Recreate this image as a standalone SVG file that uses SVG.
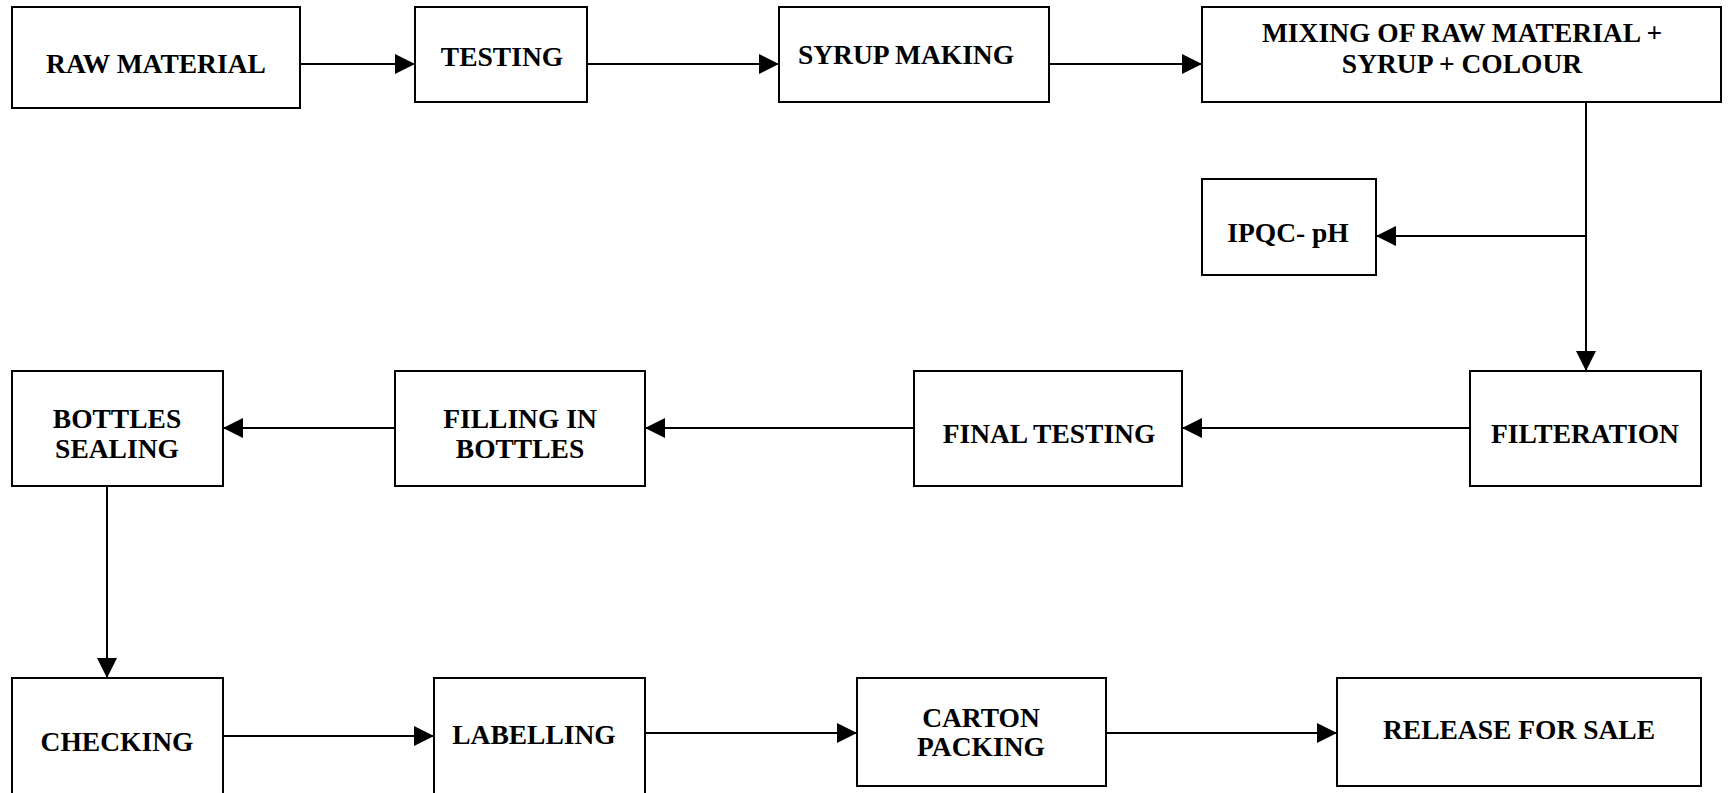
<svg xmlns="http://www.w3.org/2000/svg" width="1731" height="793" viewBox="0 0 1731 793">
<style>
.box{fill:#fff;stroke:#000;stroke-width:2}
.t{font-family:"Liberation Serif","Times New Roman",serif;font-weight:bold;font-size:27.5px;fill:#000;text-anchor:middle}
.c{fill:none;stroke:#000;stroke-width:2}
</style>
<defs>
<marker id="ah" markerUnits="userSpaceOnUse" markerWidth="20" markerHeight="20" refX="20" refY="10" orient="auto" viewBox="0 0 20 20">
<path d="M0,0 L20,10 L0,20 z" fill="#000"/>
</marker>
</defs>
<rect width="1731" height="793" fill="#fff"/>
<g id="connectors">
<line class="c" x1="300" y1="64" x2="415" y2="64" marker-end="url(#ah)"/>
<line class="c" x1="587" y1="64" x2="779" y2="64" marker-end="url(#ah)"/>
<line class="c" x1="1049" y1="64" x2="1202" y2="64" marker-end="url(#ah)"/>
<line class="c" x1="1586" y1="102" x2="1586" y2="371" marker-end="url(#ah)"/>
<line class="c" x1="1586" y1="236" x2="1376" y2="236" marker-end="url(#ah)"/>
<line class="c" x1="1470" y1="428" x2="1182" y2="428" marker-end="url(#ah)"/>
<line class="c" x1="914" y1="428" x2="645" y2="428" marker-end="url(#ah)"/>
<line class="c" x1="395" y1="428" x2="223" y2="428" marker-end="url(#ah)"/>
<line class="c" x1="107" y1="486" x2="107" y2="678" marker-end="url(#ah)"/>
<line class="c" x1="223" y1="736" x2="434" y2="736" marker-end="url(#ah)"/>
<line class="c" x1="645" y1="733" x2="857" y2="733" marker-end="url(#ah)"/>
<line class="c" x1="1106" y1="733" x2="1337" y2="733" marker-end="url(#ah)"/>
</g>
<g id="raw-material"><rect class="box" x="12" y="7" width="288" height="101"/><text class="t" x="156" y="73">RAW MATERIAL</text></g>
<g id="testing"><rect class="box" x="415" y="7" width="172" height="95"/><text class="t" x="502" y="66">TESTING</text></g>
<g id="syrup-making"><rect class="box" x="779" y="7" width="270" height="95"/><text class="t" x="906" y="64">SYRUP MAKING</text></g>
<g id="mixing"><rect class="box" x="1202" y="7" width="519" height="95"/><text class="t" x="1462" y="42">MIXING OF RAW MATERIAL +</text><text class="t" x="1462" y="73">SYRUP + COLOUR</text></g>
<g id="ipqc"><rect class="box" x="1202" y="179" width="174" height="96"/><text class="t" x="1288" y="242">IPQC- pH</text></g>
<g id="filteration"><rect class="box" x="1470" y="371" width="231" height="115"/><text class="t" x="1585" y="443">FILTERATION</text></g>
<g id="final-testing"><rect class="box" x="914" y="371" width="268" height="115"/><text class="t" x="1049" y="443">FINAL TESTING</text></g>
<g id="filling"><rect class="box" x="395" y="371" width="250" height="115"/><text class="t" x="520" y="428">FILLING IN</text><text class="t" x="520" y="458">BOTTLES</text></g>
<g id="bottles-sealing"><rect class="box" x="12" y="371" width="211" height="115"/><text class="t" x="117" y="428">BOTTLES</text><text class="t" x="117" y="458">SEALING</text></g>
<g id="checking"><rect class="box" x="12" y="678" width="211" height="118"/><text class="t" x="117" y="751">CHECKING</text></g>
<g id="labelling"><rect class="box" x="434" y="678" width="211" height="118"/><text class="t" x="534" y="744">LABELLING</text></g>
<g id="carton-packing"><rect class="box" x="857" y="678" width="249" height="108"/><text class="t" x="981" y="727">CARTON</text><text class="t" x="981" y="756">PACKING</text></g>
<g id="release"><rect class="box" x="1337" y="678" width="364" height="108"/><text class="t" x="1519" y="739">RELEASE FOR SALE</text></g>
</svg>
